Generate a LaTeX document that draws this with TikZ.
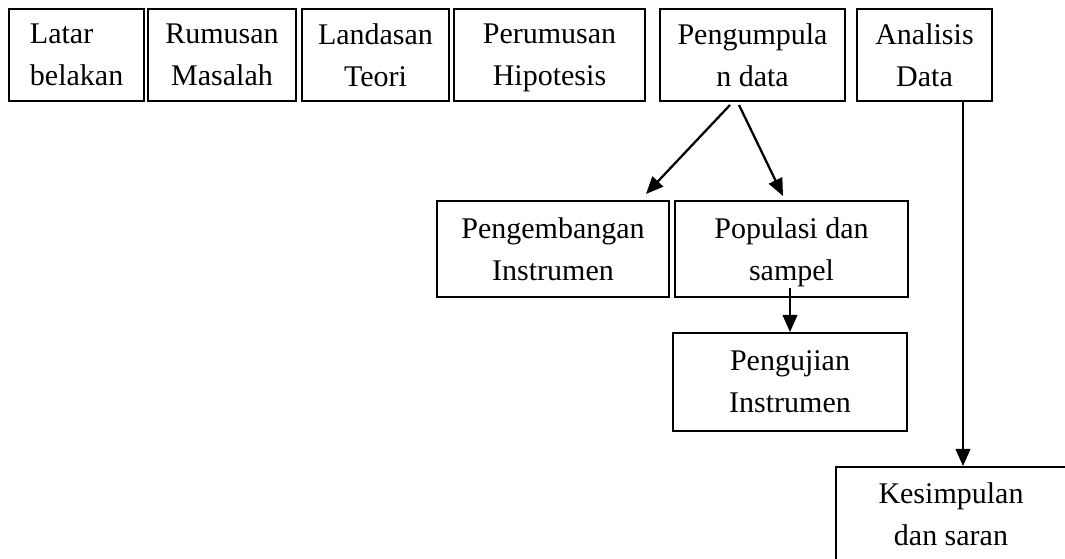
\documentclass[tikz,border=0pt]{standalone}
\usepackage{fontspec}
\setmainfont{Liberation Serif}
\usetikzlibrary{arrows.meta}
\begin{document}
\begin{tikzpicture}[x=0.75pt,y=-0.75pt,
  box/.style={draw, line width=1.3pt, inner sep=0pt, align=center,
    font=\fontsize{22.5}{31.5}\selectfont},
  bw/.style={minimum width=#1*0.75pt},
  bh/.style={minimum height=#1*0.75pt},
  arr/.style={line width=1.7pt, -{Triangle[length=13pt,width=11pt]}}]
\useasboundingbox (0,0) rectangle (1065,559);
\clip (0,0) rectangle (1065,559);
% top row
\node[box,bw=135,bh=92,text width=69.75pt,align=left] (lb) at (76.5,55) {Latar\\\smash{belakan}};
\node[box,bw=148,bh=92] (rm) at (222,55) {Rumusan\\\smash{Masalah}};
\node[box,bw=147,bh=92] (lt) at (375.5,55) {Landasan\\\smash{Teori}};
\node[box,bw=191,bh=92] (ph) at (549.5,55) {Perumusan\\\smash{Hipotesis}};
\node[box,bw=185,bh=92] (pg) at (752.5,55) {Pengumpula\\\smash{n data}};
\node[box,bw=135,bh=92] (an) at (924.5,55) {Analisis\\\smash{Data}};
% second row
\node[box,bw=232,bh=96] (pi) at (553,249) {Pengembangan\\\smash{Instrumen}};
\node[box,bw=233,bh=96] (pp) at (791.5,249) {Populasi dan\\\smash{sampel}};
% third row
\node[box,bw=234,bh=98] (pj) at (790,382) {Pengujian\\\smash{Instrumen}};
% bottom
\node[box,bw=230,bh=95] (ks) at (951,514.5) {Kesimpulan\\\smash{dan saran}};
% connectors
\coordinate (a1s) at (730,105);
\coordinate (a1e) at (646,194);
\coordinate (a2s) at (739,105);
\coordinate (a2e) at (783,196);
\coordinate (c3) at (790,288);
\coordinate (c4) at (963,101);
\draw[arr] (a1s) -- (a1e);
\draw[arr] (a2s) -- (a2e);
\draw[arr] (c3) -- (pj.north);
\draw[arr] (an.south -| c4) -- (ks.north -| c4);
\end{tikzpicture}
\end{document}
